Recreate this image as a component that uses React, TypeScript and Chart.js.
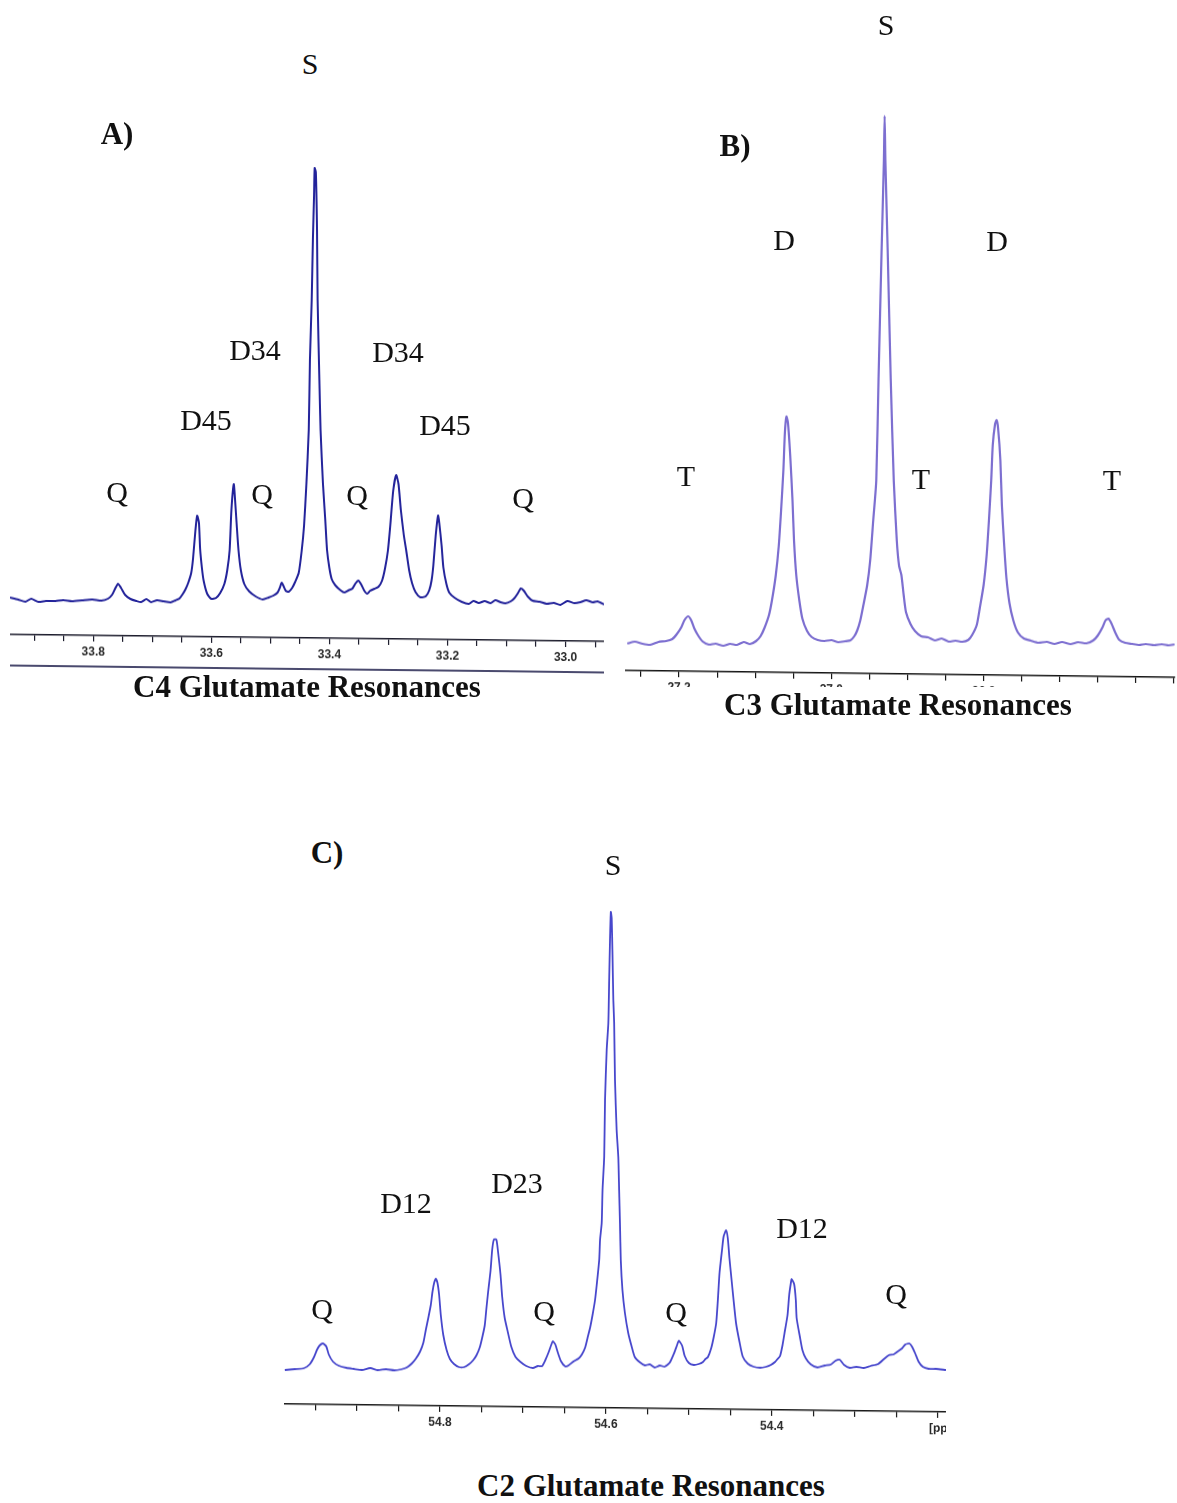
import React, { useEffect, useRef } from "react";
import { Chart, registerables } from "chart.js";

Chart.register(...registerables);

// ---------------- Panel A : C4 glutamate (ppm / intensity a.u.) ----------------
const c4Ppm = [
  33.941, 33.927, 33.915, 33.905, 33.893, 33.88, 33.864, 33.851, 33.836, 33.819,
  33.802, 33.786, 33.775, 33.768, 33.763, 33.758, 33.753, 33.746, 33.737, 33.727,
  33.719, 33.71, 33.702, 33.692, 33.681, 33.669, 33.661, 33.654, 33.649, 33.644,
  33.639, 33.634, 33.631, 33.627, 33.624, 33.621, 33.619, 33.616, 33.613, 33.607,
  33.6, 33.592, 33.585, 33.578, 33.573, 33.569, 33.566, 33.562, 33.56, 33.557,
  33.554, 33.55, 33.544, 33.536, 33.525, 33.513, 33.503, 33.495, 33.488, 33.484,
  33.481, 33.478, 33.474, 33.469, 33.463, 33.458, 33.452, 33.447, 33.443, 33.439,
  33.435, 33.433, 33.43, 33.428, 33.426, 33.425, 33.423, 33.421, 33.42, 33.417,
  33.415, 33.411, 33.407, 33.404, 33.4, 33.396, 33.39, 33.381, 33.375, 33.368,
  33.361, 33.356, 33.351, 33.346, 33.341, 33.336, 33.331, 33.324, 33.317, 33.311,
  33.306, 33.301, 33.297, 33.292, 33.287, 33.283, 33.279, 33.274, 33.27, 33.265,
  33.26, 33.254, 33.246, 33.237, 33.231, 33.227, 33.224, 33.22, 33.216, 33.214,
  33.21, 33.207, 33.202, 33.197, 33.188, 33.176, 33.164, 33.156, 33.147, 33.137,
  33.127, 33.119, 33.11, 33.102, 33.093, 33.087, 33.081, 33.076, 33.071, 33.064,
  33.056, 33.044, 33.032, 33.02, 33.009, 32.997, 32.985, 32.975, 32.965, 32.954,
  32.946, 32.935,
];
const c4Intensity = [
  37, 35, 33, 36, 33, 34, 34, 35, 34, 35,
  36, 35, 37, 41, 47, 52, 48, 41, 37, 35,
  34, 37, 34, 36, 35, 34, 36, 38, 42, 47,
  54, 64, 78, 106, 121, 114, 88, 69, 56, 43,
  38, 39, 44, 53, 67, 87, 127, 153, 139, 112,
  87, 67, 53, 46, 41, 38, 40, 42, 45, 50,
  55, 52, 47, 46, 50, 56, 65, 87, 112, 154,
  208, 278, 338, 398, 443, 470, 466, 408, 338, 258,
  208, 155, 118, 88, 70, 59, 53, 48, 46, 48,
  50, 55, 58, 54, 48, 45, 48, 50, 52, 58,
  70, 88, 113, 148, 164, 155, 129, 104, 89, 69,
  56, 47, 42, 43, 49, 59, 74, 104, 124, 117,
  94, 72, 56, 47, 42, 38, 36, 39, 37, 39,
  37, 40, 38, 37, 39, 42, 47, 52, 50, 44,
  40, 39, 37, 38, 36, 40, 38, 39, 41, 39,
  40, 37,
];
const c4MajorTicks = [33.8, 33.6, 33.4, 33.2, 33.0];
const c4Range = [32.935, 33.941];

// ---------------- Panel B : C3 glutamate ----------------
const c3Ppm = [
  27.268, 27.258, 27.248, 27.238, 27.227, 27.217, 27.209, 27.203, 27.197, 27.193,
  27.188, 27.184, 27.18, 27.175, 27.169, 27.161, 27.152, 27.142, 27.133, 27.124,
  27.115, 27.107, 27.099, 27.093, 27.088, 27.082, 27.078, 27.073, 27.069, 27.066,
  27.063, 27.061, 27.059, 27.057, 27.054, 27.051, 27.049, 27.046, 27.042, 27.038,
  27.032, 27.026, 27.018, 27.009, 27.0, 26.991, 26.982, 26.975, 26.97, 26.966,
  26.962, 26.958, 26.953, 26.949, 26.945, 26.941, 26.938, 26.934, 26.931, 26.93,
  26.929, 26.926, 26.922, 26.918, 26.914, 26.911, 26.908, 26.905, 26.902, 26.896,
  26.89, 26.882, 26.873, 26.864, 26.855, 26.846, 26.837, 26.828, 26.82, 26.815,
  26.809, 26.805, 26.8, 26.796, 26.793, 26.79, 26.788, 26.785, 26.783, 26.781,
  26.778, 26.776, 26.773, 26.77, 26.766, 26.761, 26.755, 26.747, 26.738, 26.728,
  26.717, 26.707, 26.697, 26.686, 26.676, 26.665, 26.656, 26.65, 26.644, 26.64,
  26.636, 26.632, 26.627, 26.622, 26.614, 26.605, 26.596, 26.587, 26.576, 26.566,
  26.557, 26.549,
];
const c3Intensity = [
  27, 29, 27, 26, 29, 30, 32, 37, 44, 51,
  55, 51, 43, 36, 30, 27, 28, 26, 28, 27,
  30, 28, 31, 36, 44, 57, 72, 97, 127, 162,
  202, 240, 256, 250, 217, 172, 132, 97, 72, 54,
  42, 36, 33, 32, 33, 31, 32, 33, 37, 43,
  53, 68, 88, 113, 153, 193, 295, 423, 513, 558,
  513, 423, 295, 193, 133, 108, 99, 79, 62, 50,
  43, 38, 37, 34, 36, 33, 34, 33, 35, 40,
  50, 67, 90, 120, 155, 195, 230, 251, 255, 247,
  215, 170, 130, 97, 72, 55, 43, 37, 35, 33,
  34, 32, 34, 32, 34, 33, 36, 41, 49, 56,
  58, 53, 44, 37, 34, 33, 32, 33, 32, 33,
  32, 33,
];
const c3MajorTicks = [27.2, 27.0, 26.8, 26.6];
const c3Range = [26.549, 27.271];

// ---------------- Panel C : C2 glutamate ----------------
const c2Ppm = [
  54.987, 54.975, 54.964, 54.957, 54.952, 54.948, 54.945, 54.941, 54.937, 54.934,
  54.929, 54.922, 54.913, 54.904, 54.894, 54.884, 54.875, 54.865, 54.855, 54.847,
  54.84, 54.834, 54.829, 54.824, 54.82, 54.817, 54.814, 54.811, 54.809, 54.807,
  54.805, 54.803, 54.801, 54.799, 54.796, 54.792, 54.788, 54.783, 54.777, 54.771,
  54.765, 54.76, 54.756, 54.752, 54.749, 54.746, 54.744, 54.742, 54.739, 54.737,
  54.735, 54.732, 54.73, 54.727, 54.725, 54.722, 54.718, 54.714, 54.709, 54.703,
  54.696, 54.688, 54.682, 54.677, 54.673, 54.669, 54.666, 54.664, 54.661, 54.658,
  54.654, 54.649, 54.645, 54.639, 54.633, 54.629, 54.625, 54.622, 54.619, 54.616,
  54.613, 54.611, 54.608, 54.607, 54.605, 54.604, 54.602, 54.601, 54.599, 54.597,
  54.596, 54.595, 54.594, 54.593, 54.592, 54.591, 54.59, 54.589, 54.587, 54.585,
  54.584, 54.583, 54.582, 54.58, 54.577, 54.573, 54.569, 54.565, 54.559, 54.553,
  54.547, 54.541, 54.535, 54.529, 54.523, 54.518, 54.514, 54.512, 54.508, 54.505,
  54.5, 54.494, 54.488, 54.483, 54.48, 54.477, 54.473, 54.47, 54.467, 54.465,
  54.463, 54.46, 54.458, 54.455, 54.453, 54.451, 54.449, 54.446, 54.443, 54.439,
  54.435, 54.429, 54.422, 54.414, 54.407, 54.401, 54.396, 54.393, 54.39, 54.387,
  54.384, 54.381, 54.379, 54.377, 54.376, 54.373, 54.371, 54.37, 54.366, 54.363,
  54.359, 54.353, 54.345, 54.336, 54.329, 54.323, 54.318, 54.313, 54.306, 54.298,
  54.289, 54.281, 54.272, 54.265, 54.259, 54.253, 54.248, 54.243, 54.239, 54.234,
  54.231, 54.227, 54.223, 54.218, 54.211, 54.202, 54.19,
];
const c2Intensity = [
  34, 35, 36, 40, 47, 55, 59, 61, 58, 50,
  43, 39, 37, 36, 35, 37, 35, 36, 35, 36,
  38, 42, 47, 54, 63, 76, 88, 101, 114, 123,
  127, 123, 111, 91, 71, 56, 47, 42, 39, 39,
  42, 46, 51, 59, 69, 81, 98, 114, 136, 157,
  167, 167, 155, 132, 110, 89, 74, 60, 50, 45,
  41, 39, 41, 41, 47, 55, 62, 66, 63, 55,
  46, 41, 42, 46, 49, 53, 60, 70, 80, 93,
  108, 123, 148, 168, 185, 218, 251, 308, 358, 385,
  428, 468, 496, 490, 453, 408, 385, 328, 278, 251,
  218, 185, 148, 118, 95, 75, 62, 51, 46, 43,
  44, 41, 43, 42, 46, 55, 64, 68, 63, 53,
  46, 44, 45, 47, 50, 52, 61, 72, 86, 109,
  136, 159, 173, 179, 171, 151, 134, 109, 86, 68,
  53, 46, 43, 42, 43, 45, 48, 51, 54, 65,
  80, 95, 115, 127, 131, 126, 110, 92, 73, 60,
  52, 46, 43, 45, 46, 50, 51, 46, 43, 44,
  43, 45, 47, 52, 56, 57, 60, 63, 67, 68,
  65, 58, 50, 45, 43, 43, 42,
];
const c2MajorTicks = [54.8, 54.6, 54.4];
const c2Range = [54.19, 54.988];

const SERIF = "'Liberation Serif', 'Times New Roman', serif";
const SANS = "'Liberation Sans', Arial, sans-serif";
const AXIS_H = 30;

type PanelProps = {
  ppm: number[];
  intensity: number[];
  majors: number[];
  range: number[];
  color: string;
  lineWidth: number;
  left: number;
  top: number;
  width: number;
  plotHeight: number;
  angle: number;
  axisColor: string;
  clip?: boolean;
  children?: React.ReactNode;
};

function SpectrumPanel(p: PanelProps) {
  const ref = useRef<HTMLCanvasElement>(null);
  useEffect(() => {
    const chart = new Chart(ref.current as HTMLCanvasElement, {
      type: "line",
      data: {
        datasets: [
          {
            data: p.ppm.map((x, i) => ({ x, y: p.intensity[i] })),
            borderColor: p.color,
            borderWidth: p.lineWidth,
            pointRadius: 0,
            tension: 0.2,
            fill: false,
          },
        ],
      },
      options: {
        animation: false,
        responsive: false,
        devicePixelRatio: 1,
        events: [],
        layout: { padding: 0 },
        plugins: { legend: { display: false }, tooltip: { enabled: false } },
        scales: {
          x: {
            type: "linear",
            reverse: true,
            min: p.range[0],
            max: p.range[1],
            afterFit: (s: any) => {
              s.height = AXIS_H;
            },
            grid: {
              drawOnChartArea: false,
              drawTicks: true,
              tickLength: 6,
              color: p.axisColor,
              lineWidth: 1.2,
            },
            border: { display: true, color: p.axisColor, width: 1.6 },
            ticks: {
              stepSize: 0.05,
              includeBounds: false,
              autoSkip: false,
              maxRotation: 0,
              minRotation: 0,
              padding: 3,
              color: "#2a2a2a",
              font: { family: SANS, size: 12, weight: "bold" },
              callback: (v: any) => {
                const n = Number(v);
                return p.majors.some((m) => Math.abs(m - n) < 1e-6) ? n.toFixed(1) : "";
              },
            },
          },
          y: { display: false, min: 0, max: p.plotHeight },
        },
      } as any,
    });
    return () => chart.destroy();
  }, []);
  const h = p.plotHeight + AXIS_H;
  return (
    <div
      style={{
        position: "absolute",
        left: p.left,
        top: p.top,
        width: p.width,
        height: h,
        transform: `skewY(${p.angle}deg)`,
        transformOrigin: `${p.width / 2}px ${p.plotHeight}px`,
        overflow: p.clip ? "hidden" : "visible",
      }}
    >
      <canvas ref={ref} width={p.width} height={h} style={{ display: "block" }} />
      {p.children}
    </div>
  );
}

function Label({ x, y, text, bold = false, size = 30 }: { x: number; y: number; text: string; bold?: boolean; size?: number }) {
  return (
    <div
      style={{
        position: "absolute",
        left: x,
        top: y,
        transform: "translate(-50%, -50%)",
        fontFamily: SERIF,
        fontSize: size,
        fontWeight: bold ? "bold" : "normal",
        lineHeight: 1,
        whiteSpace: "nowrap",
        color: "#111",
      }}
    >
      {text}
    </div>
  );
}

export default function App() {
  return (
    <div
      style={{
        position: "absolute",
        left: 0,
        top: 0,
        width: 1177,
        height: 1503,
        overflow: "hidden",
        background: "#fff",
      }}
    >
      {/* Panel A */}
      <SpectrumPanel
        ppm={c4Ppm}
        intensity={c4Intensity}
        majors={c4MajorTicks}
        range={c4Range}
        color="#22229a"
        lineWidth={2}
        left={10}
        top={100}
        width={594}
        plotHeight={538}
        angle={0.67}
        axisColor="#1c1c2c"
      >
        <div style={{ position: "absolute", left: 0, top: 568, width: 594, height: 0, borderTop: "2px solid #4a4a6e" }} />
      </SpectrumPanel>
      <Label x={117} y={133} text="A)" bold size={31} />
      <Label x={310} y={64} text="S" />
      <Label x={255} y={350} text="D34" />
      <Label x={206} y={420} text="D45" />
      <Label x={398} y={352} text="D34" />
      <Label x={445} y={425} text="D45" />
      <Label x={117} y={492} text="Q" />
      <Label x={262} y={494} text="Q" />
      <Label x={357} y={495} text="Q" />
      <Label x={523} y={498} text="Q" />
      <Label x={307} y={686} text="C4 Glutamate Resonances" bold size={31} />

      {/* Panel B */}
      <div style={{ position: "absolute", left: 0, top: 0, width: 1177, height: 687, overflow: "hidden" }}>
        <SpectrumPanel
          ppm={c3Ppm}
          intensity={c3Intensity}
          majors={c3MajorTicks}
          range={c3Range}
          color="#7c6ed0"
          lineWidth={2.2}
          left={625}
          top={60}
          width={552}
          plotHeight={614}
          angle={0.72}
          axisColor="#151515"
        />
      </div>
      <Label x={735} y={145} text="B)" bold size={31} />
      <Label x={886} y={25} text="S" />
      <Label x={784} y={240} text="D" />
      <Label x={997} y={241} text="D" />
      <Label x={686} y={476} text="T" />
      <Label x={921} y={479} text="T" />
      <Label x={1112} y={480} text="T" />
      <Label x={898} y={704} text="C3 Glutamate Resonances" bold size={31} />

      {/* Panel C */}
      <SpectrumPanel
        ppm={c2Ppm}
        intensity={c2Intensity}
        majors={c2MajorTicks}
        range={c2Range}
        color="#4646cc"
        lineWidth={1.8}
        left={284}
        top={880}
        width={662}
        plotHeight={528}
        angle={0.69}
        axisColor="#1a1a1a"
        clip
      >
        <div
          style={{
            position: "absolute",
            left: 645,
            top: 538,
            fontFamily: SANS,
            fontSize: 12,
            fontWeight: "bold",
            color: "#2a2a2a",
            whiteSpace: "nowrap",
            lineHeight: 1,
          }}
        >
          [ppm]
        </div>
      </SpectrumPanel>
      <Label x={327} y={852} text="C)" bold size={31} />
      <Label x={613} y={865} text="S" />
      <Label x={406} y={1203} text="D12" />
      <Label x={517} y={1183} text="D23" />
      <Label x={802} y={1228} text="D12" />
      <Label x={322} y={1309} text="Q" />
      <Label x={544} y={1311} text="Q" />
      <Label x={676} y={1312} text="Q" />
      <Label x={896} y={1294} text="Q" />
      <Label x={651} y={1485} text="C2 Glutamate Resonances" bold size={31} />
    </div>
  );
}
